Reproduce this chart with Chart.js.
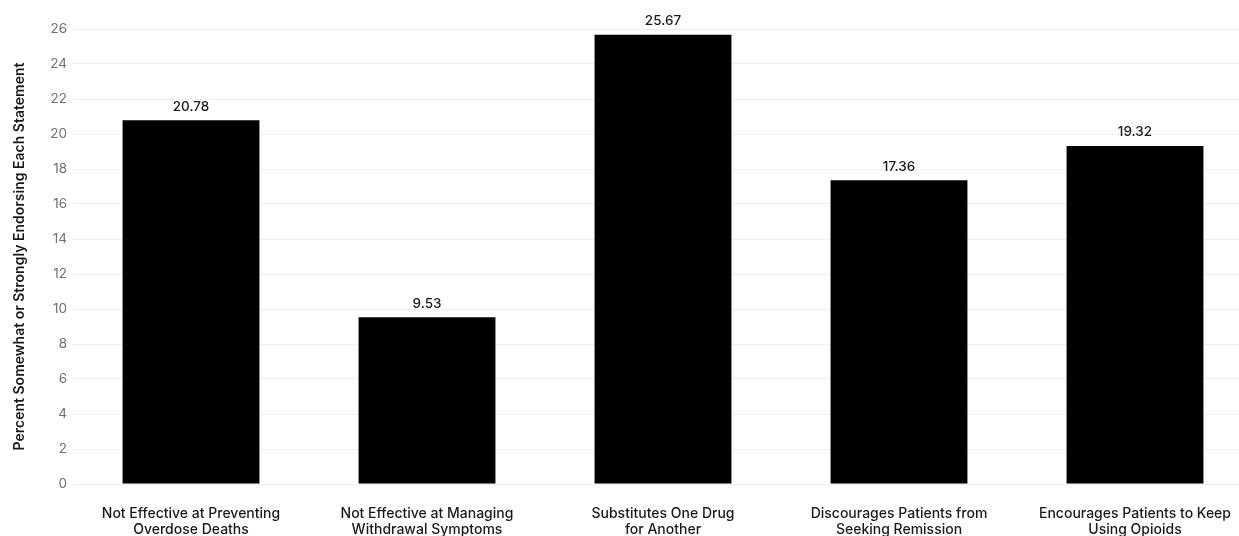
<!DOCTYPE html>
<html>
<head>
<meta charset="utf-8">
<script src="https://cdn.jsdelivr.net/npm/chart.js@4.4.1/dist/chart.umd.min.js"></script>
<style>
  html, body { margin: 0; padding: 0; background: #ffffff; overflow: hidden; }
  #wrap { width: 1253px; height: 536px; position: relative; }
</style>
</head>
<body>
<div id="wrap"><canvas id="c"></canvas></div>
<script>
const categories = [
  ["Not Effective at Preventing", "Overdose Deaths"],
  ["Not Effective at Managing", "Withdrawal Symptoms"],
  ["Substitutes One Drug", "for Another"],
  ["Discourages Patients from", "Seeking Remission"],
  ["Encourages Patients to Keep", "Using Opioids"]
];
const percentEndorsing = [20.78, 9.53, 25.67, 17.36, 19.32];
const yTitle = "Percent Somewhat or Strongly Endorsing Each Statement";

const FONT = "Inter, 'Open Sans', sans-serif";

// Writes each bar's value just above its top edge
const valueLabels = {
  id: 'valueLabels',
  afterDatasetsDraw(chart) {
    const ctx = chart.ctx;
    const meta = chart.getDatasetMeta(0);
    ctx.save();
    ctx.font = "500 13.5px " + FONT;
    ctx.fillStyle = "#1a1a1a";
    ctx.textAlign = "center";
    ctx.textBaseline = "bottom";
    meta.data.forEach((bar, i) => {
      ctx.fillText(percentEndorsing[i].toFixed(2), bar.x, bar.y - 7);
    });
    ctx.restore();
  }
};

new Chart(document.getElementById('c'), {
  type: 'bar',
  data: {
    labels: categories,
    datasets: [{
      data: percentEndorsing,
      backgroundColor: '#000000',
      borderWidth: 0,
      categoryPercentage: 0.58,
      barPercentage: 1.0
    }]
  },
  options: {
    responsive: true,
    maintainAspectRatio: false,
    animation: false,
    layout: { padding: { top: 29, right: 0, bottom: 0, left: 0 } },
    plugins: { legend: { display: false }, tooltip: { enabled: false } },
    scales: {
      x: {
        grid: { display: false, drawTicks: false },
        border: { display: false },
        ticks: {
          color: '#1a1a1a',
          font: { family: FONT, size: 14, weight: '500', lineHeight: 1.15 },
          padding: 22,
          maxRotation: 0,
          autoSkip: false
        },
        afterFit(scale) { scale.height = 52; }
      },
      y: {
        min: 0,
        max: 26,
        grid: { color: '#efefef', drawTicks: false, lineWidth: 1 },
        border: { display: false },
        ticks: {
          stepSize: 2,
          color: '#707070',
          font: { family: FONT, size: 13.5 },
          padding: 6
        },
        title: {
          display: true,
          text: yTitle,
          color: '#1a1a1a',
          font: { family: FONT, size: 14, weight: '600' },
          padding: { top: 11, bottom: 0 }
        },
        afterFit(scale) { scale.width = 73; }
      }
    }
  },
  plugins: [valueLabels]
});
</script>
</body>
</html>
